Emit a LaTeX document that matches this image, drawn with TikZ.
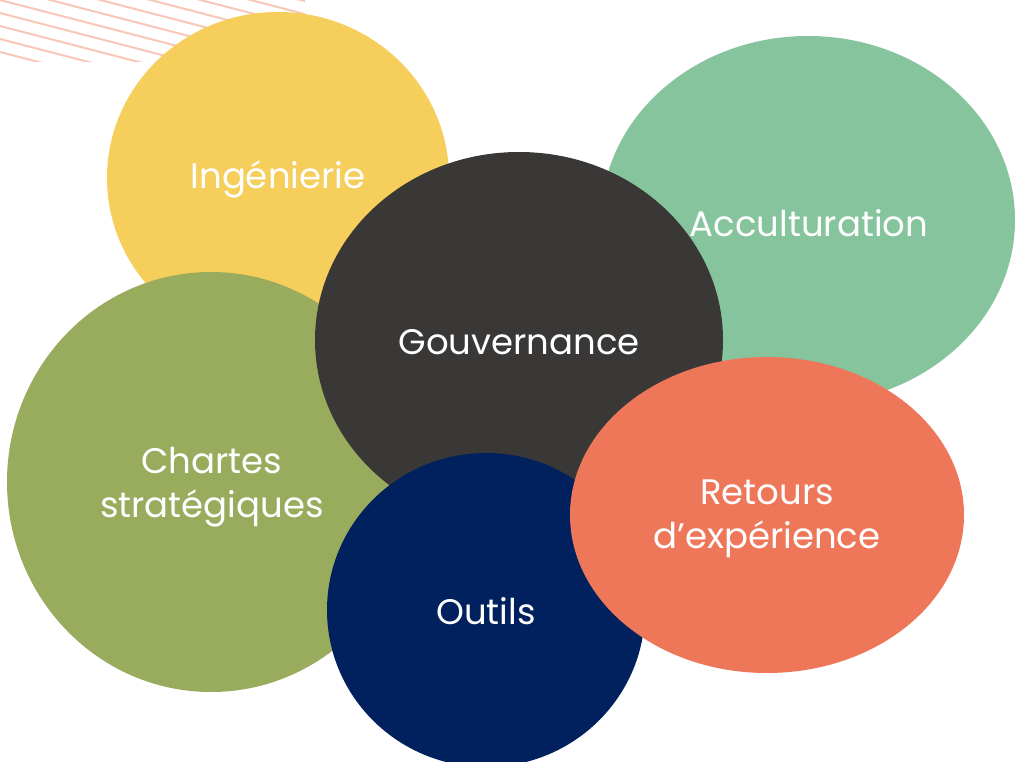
\documentclass[tikz,border=0pt]{standalone}
\usepackage{fontspec}
\setmainfont{Poppins}[Ligatures=NoCommon]
\definecolor{cyellow}{HTML}{F5CE5B}
\definecolor{cgreen}{HTML}{86C49D}
\definecolor{colive}{HTML}{99AC5D}
\definecolor{cdark}{HTML}{3A3837}
\definecolor{cnavy}{HTML}{00215D}
\definecolor{ccoral}{HTML}{EF7759}
\definecolor{cstripe}{HTML}{F9C7B8}
\tikzset{
  blob/.style={fill=#1, draw=none},
  lbl/.style={text=white, align=center, font=\fontsize{35.5}{44}\selectfont, inner sep=0pt},
  stripe/.style={draw=cstripe, line width=2pt}
}
\begin{document}
\begin{tikzpicture}[x=1pt,y=-1pt]
\useasboundingbox (0,0) rectangle (1015,762);
\fill[white] (0,0) rectangle (1015,762);
% stripes
\begin{scope}
\clip (0,0) rectangle (305,62);
\foreach \k in {-12,...,12} {
  \draw[stripe] (0,{\k*13}) -- (320,{\k*13+83});
}
\end{scope}
% circles
\begin{scope}
\clip (0,0) rectangle (1015,762);
\fill[blob=cyellow] (278,178) ellipse [x radius=171, y radius=166];
\fill[blob=cgreen] (808,220) ellipse [x radius=207, y radius=184];
\fill[blob=colive] (211,482) ellipse [x radius=204, y radius=210];
\fill[blob=cdark] (519,340) ellipse [x radius=204, y radius=188];
\fill[blob=cnavy] (486,610) ellipse [x radius=159, y radius=157];
\fill[blob=ccoral] (767,515) ellipse [x radius=197, y radius=158];
\end{scope}
\node[lbl] (ing) at (278,179) {Ingénierie};
\node[lbl] (acc) at (809,223) {Acculturation};
\node[lbl] (gov) at (519,342) {Gouvernance};
\node[lbl] (cha) at (212,487) {Chartes\\stratégiques};
\node[lbl] (out) at (486,611) {Outils};
\node[lbl] (ret) at (767,519) {Retours\\d’expérience};
\end{tikzpicture}
\end{document}
